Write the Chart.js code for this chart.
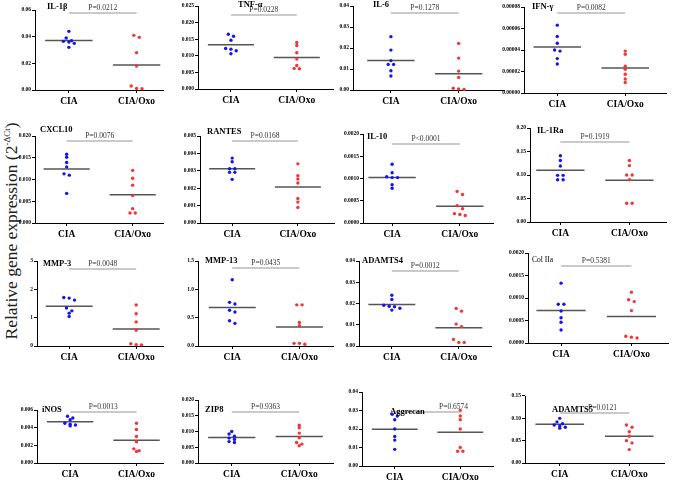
<!DOCTYPE html>
<html>
<head>
<meta charset="utf-8">
<script src="https://cdn.jsdelivr.net/npm/chart.js@4"></script>
<style>
  body { margin: 0; width: 675px; height: 492px; position: relative; overflow: hidden; background: #fff; font-family: 'Liberation Serif', serif; }
  canvas { position: absolute; }
  #ylabel { position: absolute; left: 11px; top: 231px; transform: translate(-50%, -50%) rotate(-90deg); white-space: nowrap; font-size: 17.5px; color: #222; }
  #ylabel sup { font-size: 9px; }
</style>
</head>
<body>
<div id="ylabel">Relative gene expression (2<sup>-ΔCt</sup>)</div>
<script>
const groups = ['CIA', 'CIA/Oxo'];
const genes = ['IL-1β', 'TNF-α', 'IL-6', 'IFN-γ', 'CXCL10', 'RANTES', 'IL-10', 'IL-1Ra',
               'MMP-3', 'MMP-13', 'ADAMTS4', 'Col IIa', 'iNOS', 'ZIP8', 'Aggrecan', 'ADAMTS5'];
const pLabels = ['P=0.0212', 'P=0.0228', 'P=0.1278', 'P=0.0082', 'P=0.0076', 'P=0.0168', 'P<0.0001', 'P=0.1919',
                 'P=0.0048', 'P=0.0435', 'P=0.0012', 'P=0.5381', 'P=0.0013', 'P=0.9363', 'P=0.6574', 'P=0.0121'];

const ciaValues = [
  [0.044, 0.039, 0.037, 0.0365, 0.036, 0.035, 0.032],
  [0.0165, 0.0159, 0.0147, 0.0122, 0.0120, 0.0115, 0.0106],
  [0.0254, 0.019, 0.014, 0.0122, 0.0122, 0.0092, 0.0067],
  [0.0000631, 0.0000525, 0.0000463, 0.000039, 0.00004, 0.000032, 0.000027],
  [0.0158, 0.0151, 0.0139, 0.0129, 0.0113, 0.011, 0.0068],
  [0.00373, 0.00352, 0.00312, 0.00312, 0.00291, 0.00291, 0.00251],
  [0.00132, 0.00113, 0.00102, 0.00102, 0.00104, 0.00086, 0.00078],
  [0.141, 0.131, 0.119, 0.0993, 0.0993, 0.09, 0.09],
  [1.71, 1.69, 1.62, 1.34, 1.24, 1.16, 1.04],
  [1.17, 0.77, 0.74, 0.63, 0.6, 0.445, 0.4],
  [0.0239, 0.0219, 0.0192, 0.0187, 0.0185, 0.0178, 0.0169],
  [0.00133, 0.00086, 0.00086, 0.00071, 0.00056, 0.00046, 0.00029],
  [0.0053, 0.0051, 0.0049, 0.0045, 0.0043, 0.0042, 0.0044],
  [0.010, 0.0092, 0.0085, 0.0079, 0.0075, 0.0068, 0.0065],
  [0.028, 0.027, 0.025, 0.020, 0.016, 0.014, 0.009],
  [0.10, 0.092, 0.088, 0.085, 0.083, 0.080, 0.078]
];
const oxoValues = [
  [0.041, 0.0395, 0.028, 0.018, 0.003, 0.0012, 0.001],
  [0.014, 0.0131, 0.0109, 0.009, 0.0071, 0.0061, 0.0062],
  [0.0222, 0.0152, 0.009, 0.006, 0.0008, 0.0005, 0.0003],
  [0.000039, 0.000036, 0.000025, 0.000022, 0.0000175, 0.000013, 0.0000097],
  [0.0121, 0.0103, 0.0087, 0.0063, 0.0033, 0.0023, 0.0023],
  [0.0034, 0.00272, 0.00253, 0.0023, 0.00141, 0.0012, 0.00089],
  [0.00071, 0.00064, 0.00039, 0.00032, 0.00021, 0.00017, 0.00019],
  [0.131, 0.12, 0.1, 0.1, 0.09, 0.04, 0.04],
  [1.45, 1.14, 0.85, 0.56, 0.08, 0.05, 0.04],
  [0.726, 0.726, 0.416, 0.357, 0.047, 0.03, 0.047],
  [0.0177, 0.0164, 0.0103, 0.0091, 0.0031, 0.0017, 0.0017],
  [0.00113, 0.00092, 0.00096, 0.00072, 0.00015, 0.00011, 0.00013],
  [0.0045, 0.0038, 0.0030, 0.0024, 0.0014, 0.0013, 0.0016],
  [0.012, 0.0112, 0.0095, 0.008, 0.0065, 0.006, 0.0055],
  [0.030, 0.027, 0.025, 0.020, 0.010, 0.008, 0.008],
  [0.085, 0.08, 0.07, 0.06, 0.05, 0.045, 0.03]
];

// y axis tick labels
const yMax = [0.06, 0.025, 0.04, 0.00008, 0.020, 0.005, 0.0020, 0.20, 3, 1.5, 0.04, 0.0020, 0.006, 0.020, 0.04, 0.15];
const yStep = [0.02, 0.005, 0.01, 0.00002, 0.005, 0.001, 0.0005, 0.05, 1, 0.5, 0.01, 0.0005, 0.002, 0.005, 0.01, 0.05];
const yDecimals = [2, 3, 2, 5, 3, 3, 4, 2, 0, 1, 2, 4, 3, 3, 2, 2];

// page layout of each panel (axis x, right edge, plot top/bottom, x range, title / p-value placement)
const panels = [
  { ax: 35,  right: 167, top: 10,  bottom: 90,  xmin: 0.5,  xmax: 2.39, tx: 12, ty: 7,   ly: 13,  pdx: 0 },
  { ax: 198, right: 337, top: 6,   bottom: 89,  xmin: 0.5,  xmax: 2.55, tx: 40, ty: 5,   ly: 15,  pdx: 0 },
  { ax: 353, right: 508, top: 6,   bottom: 90,  xmin: 0.44, xmax: 2.67, tx: 20, ty: 5,   ly: 13,  pdx: 0 },
  { ax: 524, right: 670, top: 7,   bottom: 93,  xmin: 0.51, xmax: 2.6,  tx: 8,  ty: 7,   ly: 13,  pdx: 0 },
  { ax: 35,  right: 167, top: 136, bottom: 223, xmin: 0.52, xmax: 2.46, tx: 5,  ty: 130, ly: 141, pdx: 0 },
  { ax: 200, right: 338, top: 136, bottom: 223, xmin: 0.51, xmax: 2.55, tx: 7,  ty: 132, ly: 141, pdx: 0 },
  { ax: 363, right: 497, top: 134, bottom: 223, xmin: 0.57, xmax: 2.49, tx: 4,  ty: 137, ly: 144, pdx: 0 },
  { ax: 530, right: 670, top: 128, bottom: 222, xmin: 0.56, xmax: 2.53, tx: 7,  ty: 131, ly: 142, pdx: 0 },
  { ax: 37,  right: 167, top: 261, bottom: 346, xmin: 0.52, xmax: 2.4,  tx: 6,  ty: 264, ly: 269, pdx: 0 },
  { ax: 198, right: 337, top: 261, bottom: 346, xmin: 0.49, xmax: 2.5,  tx: 7,  ty: 261, ly: 268, pdx: 0 },
  { ax: 359, right: 495, top: 261, bottom: 346, xmin: 0.51, xmax: 2.48, tx: 3,  ty: 261, ly: 271, pdx: 0 },
  { ax: 528, right: 672, top: 253, bottom: 343, xmin: 0.53, xmax: 2.52, tx: 4,  ty: 260, ly: 266, pdx: 0 },
  { ax: 37,  right: 167, top: 410, bottom: 463, xmin: 0.5,  xmax: 2.4,  tx: 5,  ty: 410, ly: 412, pdx: 0 },
  { ax: 198, right: 337, top: 400, bottom: 463, xmin: 0.5,  xmax: 2.5,  tx: 7,  ty: 410, ly: 412, pdx: 0 },
  { ax: 362, right: 497, top: 392, bottom: 466, xmin: 0.5,  xmax: 2.5,  tx: 28, ty: 412, ly: 412, pdx: 26 },
  { ax: 525, right: 668, top: 396, bottom: 463, xmin: 0.5,  xmax: 2.5,  tx: 27, ty: 410, ly: 413, pdx: 8 }
];

const AXIS_W = 34, PAD_TOP = 18, XAXIS_H = 24;

const mean = arr => arr.reduce((s, v) => s + v, 0) / arr.length;

// spread points with close values sideways, like a column scatter plot
function spread(vals, center, tol) {
  const order = vals.map((v, i) => i).sort((a, b) => vals[b] - vals[a]);
  const xs = new Array(vals.length).fill(center);
  let group = [];
  const flush = () => {
    group.forEach((idx, k) => { xs[idx] = center + (k - (group.length - 1) / 2) * 0.08; });
    group = [];
  };
  order.forEach(idx => {
    if (group.length && vals[group[0]] - vals[idx] > tol) flush();
    group.push(idx);
  });
  flush();
  return vals.map((v, i) => ({ x: xs[i], y: v }));
}

const annot = {
  id: 'annot',
  afterDraw(chart, args, o) {
    const ctx = chart.ctx, a = chart.chartArea, xs = chart.scales.x;
    const x1 = xs.getPixelForValue(1), x2 = xs.getPixelForValue(2);
    ctx.save();
    ctx.strokeStyle = '#b8b8b8';
    ctx.lineWidth = 1.3;
    ctx.beginPath();
    ctx.moveTo(x1, o.ly);
    ctx.lineTo(x2, o.ly);
    ctx.stroke();
    ctx.fillStyle = '#333';
    ctx.font = '7.5px "Liberation Serif"';
    ctx.textAlign = 'center';
    ctx.textBaseline = 'bottom';
    ctx.fillText(o.p, (x1 + x2) / 2 + o.pdx, o.ly - 1);
    ctx.fillStyle = '#000';
    ctx.font = o.plain ? '7.5px "Liberation Serif"' : 'bold 8.5px "Liberation Serif"';
    ctx.textAlign = 'left';
    ctx.textBaseline = 'middle';
    ctx.fillText(o.title, a.left + o.tx, o.ty);
    ctx.restore();
  }
};

genes.forEach((gene, i) => {
  const L = panels[i];
  const left = L.ax - AXIS_W, top = L.top - PAD_TOP;
  const w = L.right - left, h = (L.bottom - L.top) + PAD_TOP + XAXIS_H;
  const cv = document.createElement('canvas');
  cv.width = w; cv.height = h;
  cv.style.left = left + 'px'; cv.style.top = top + 'px';
  document.body.appendChild(cv);

  const tol = yMax[i] * 0.035;
  const m1 = mean(ciaValues[i]), m2 = mean(oxoValues[i]);

  new Chart(cv, {
    type: 'scatter',
    data: {
      datasets: [
        { data: spread(ciaValues[i], 1, tol), backgroundColor: '#1414ee', pointRadius: 1.7, pointBorderWidth: 0, clip: 6 },
        { data: spread(oxoValues[i], 2, tol), backgroundColor: '#f23636', pointRadius: 1.7, pointBorderWidth: 0, clip: 6 },
        { data: [{ x: 0.65, y: m1 }, { x: 1.35, y: m1 }], showLine: true, borderColor: '#555', borderWidth: 1.5, pointRadius: 0 },
        { data: [{ x: 1.65, y: m2 }, { x: 2.35, y: m2 }], showLine: true, borderColor: '#555', borderWidth: 1.5, pointRadius: 0 }
      ]
    },
    options: {
      responsive: false,
      animation: false,
      events: [],
      layout: { padding: { top: PAD_TOP, right: 0, left: 0, bottom: 0 } },
      plugins: {
        legend: { display: false },
        tooltip: { enabled: false },
        annot: { title: gene, p: pLabels[i], tx: L.tx, ty: L.ty - top, ly: L.ly - top, pdx: L.pdx, plain: gene === 'Col IIa' }
      },
      scales: {
        x: {
          type: 'linear',
          min: L.xmin, max: L.xmax,
          afterBuildTicks: ax => { ax.ticks = [{ value: 1 }, { value: 2 }]; },
          afterFit: ax => { ax.height = XAXIS_H; },
          grid: { drawOnChartArea: false, drawTicks: true, tickLength: 3, color: '#000' },
          border: { display: true, color: '#000', width: 1 },
          ticks: {
            callback: v => groups[v - 1],
            font: { family: 'Liberation Serif', size: 9.5, weight: 'bold' },
            color: '#000', padding: 3, maxRotation: 0, autoSkip: false
          }
        },
        y: {
          min: 0, max: yMax[i],
          afterFit: ax => { ax.width = AXIS_W; },
          afterBuildTicks: ax => {
            const t = [];
            const n = Math.round(yMax[i] / yStep[i]);
            for (let k = 0; k <= n; k++) t.push({ value: k * yStep[i] });
            ax.ticks = t;
          },
          grid: { drawOnChartArea: false, drawTicks: true, tickLength: 3, color: '#000' },
          border: { display: true, color: '#000', width: 1 },
          ticks: {
            callback: v => v.toFixed(yDecimals[i]),
            font: { family: 'Liberation Serif', size: 5.5, weight: 'bold' },
            color: '#000', padding: 1
          }
        }
      }
    },
    plugins: [annot]
  });
});
</script>
</body>
</html>
